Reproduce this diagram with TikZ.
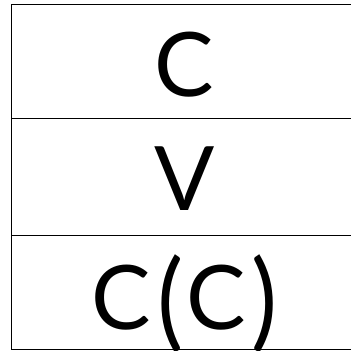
\documentclass[tikz,border=0pt]{standalone}
\usepackage{fontspec}
\usepackage{graphicx}
\setmainfont{Lato}
\newcommand{\tallparen}[1]{\raisebox{-7.5pt}{\scalebox{1.1}[1.2]{#1}}}
\begin{document}
\begin{tikzpicture}[x=1pt,y=1pt,
  cellbox/.style={draw=black, line width=1.8pt},
  label/.style={inner sep=0pt, anchor=base, font=\fontsize{89}{89}\selectfont}]
\useasboundingbox (0,0) rectangle (351,351);
\clip (0,0) rectangle (351,351);
\draw[cellbox] (11.5,346.5) rectangle (360,232.5);
\draw[cellbox] (11.5,232.5) rectangle (360,115.5);
\draw[cellbox] (11.5,115.5) rectangle (360,1.5);
\node[label] (t1) at (184.5,254) {C};
\node[label] (t2) at (185,140) {V};
\node[label] (t3) at (184.5,21) {C\hspace{7pt}\tallparen{(}\hspace{3pt}C\hspace{5pt}\tallparen{)}};
\end{tikzpicture}
\end{document}
